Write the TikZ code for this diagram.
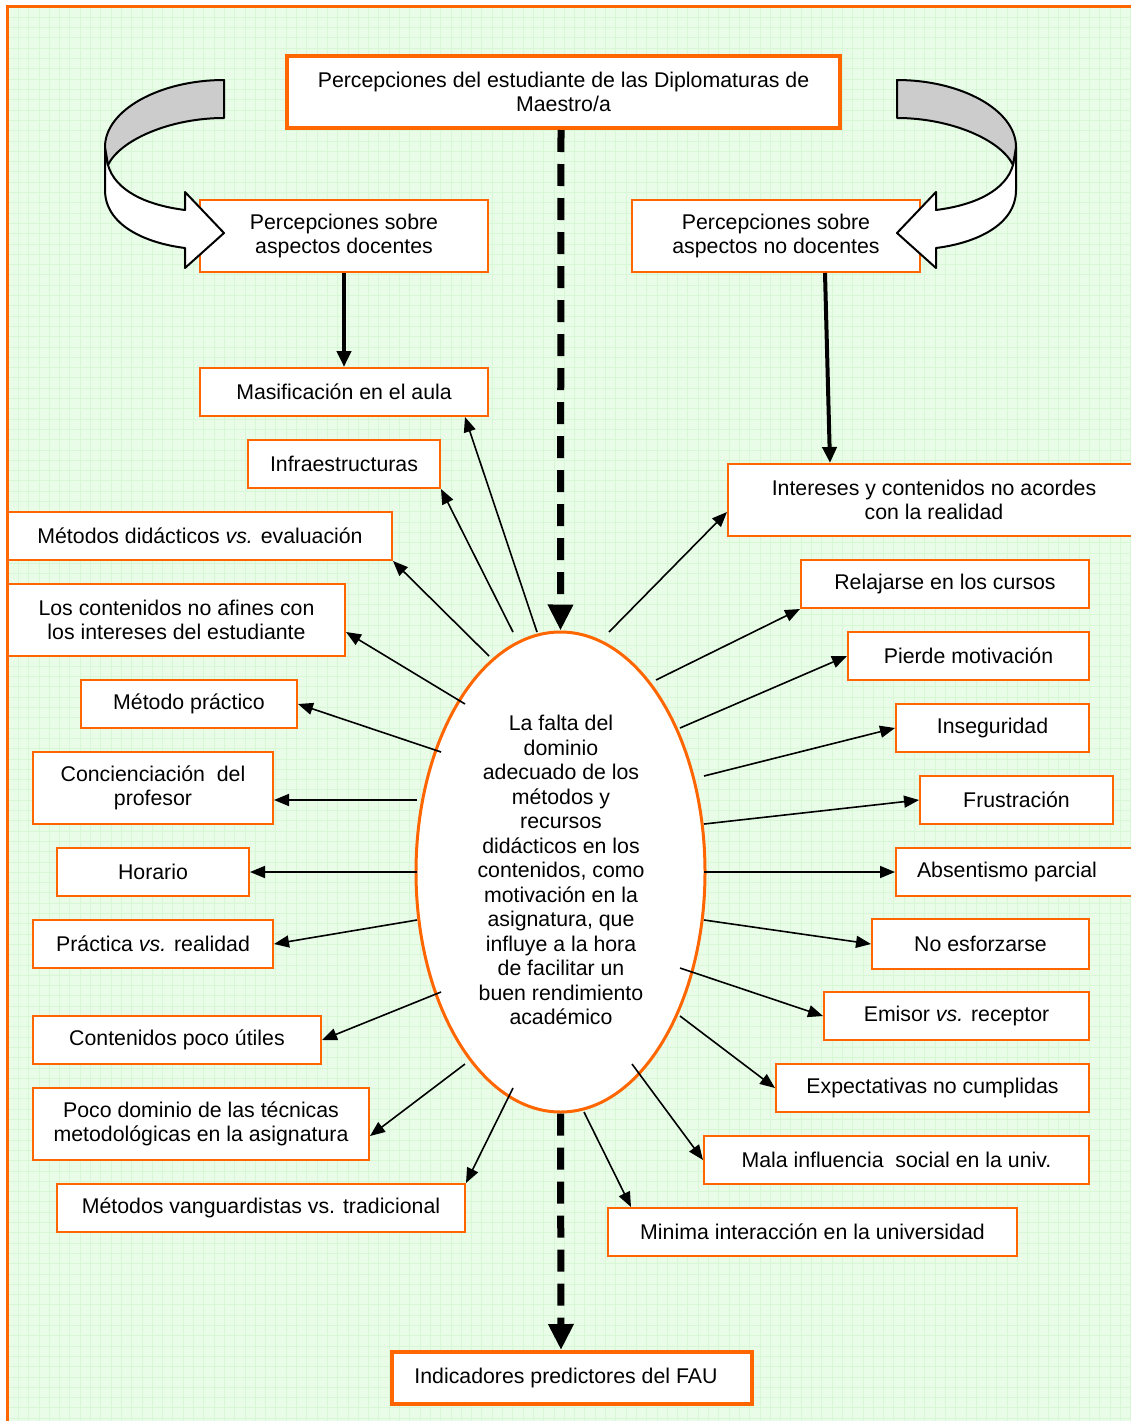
\documentclass[tikz,border=0pt]{standalone}
\usepackage{fontspec}
\setmainfont{Liberation Sans}
\usetikzlibrary{arrows.meta,shapes.geometric}
\definecolor{frameor}{RGB}{255,102,0}
\definecolor{paper}{RGB}{232,252,232}
\definecolor{gridg}{RGB}{215,247,215}
\definecolor{ribbon}{RGB}{204,204,204}
\newcommand\boxfont{\fontsize{21.3}{24.5}\selectfont}

\begin{document}
\begin{tikzpicture}[x=1pt,y=-1pt,
  box/.style={draw=frameor, line width=2pt, fill=white, inner sep=0pt, align=center, font=\boxfont},
  bigbox/.style={box, line width=4pt},
  thin/.style={line width=1.6pt, -{Triangle[length=15pt,width=12pt]}},
  thick/.style={line width=4pt, -{Triangle[length=16pt,width=14pt]}},
  dashcon/.style={line width=7pt, dash pattern=on 22pt off 12pt, -{Triangle[length=26pt,width=24pt]}},
  curved/.style={draw=black, line width=2pt, line join=round}]

\useasboundingbox (0,0) rectangle (1131,1421);
\clip (0,0) rectangle (1131,1421);

% paper with fine grid inside the orange frame
\fill[white] (0,0) rectangle (1131,1421);
\fill[paper] (7.5,6.5) rectangle (1145,1435);
\foreach \gx in {0,...,109}
  \draw[gridg, line width=0.8pt] ({8+10.3*\gx},7) -- ({8+10.3*\gx},1421);
\foreach \gy in {0,...,137}
  \draw[gridg, line width=0.8pt] (8,{7+10.3*\gy}) -- (1131,{7+10.3*\gy});
\draw[frameor, line width=3pt] (7.5,6.5) rectangle (1145,1435);

% boxes
\node[bigbox, minimum width=553, minimum height=72] (top) at (563.5,92)
  {Percepciones del estudiante de las Diplomaturas de\\Maestro/a};
\node[box, minimum width=288, minimum height=72] (doc) at (344,236)
  {Percepciones sobre\\aspectos docentes};
\node[box, minimum width=288, minimum height=72] (nodoc) at (776,236)
  {Percepciones sobre\\aspectos no docentes};

\node[box, minimum width=288, minimum height=48] (mas) at (344,392) {Masificación en el aula};
\node[box, minimum width=192, minimum height=48] (inf) at (344,464) {Infraestructuras};
\node[box, minimum width=384, minimum height=48] (metd) at (200,536) {Métodos didácticos \textit{vs.} evaluación};
\node[box, minimum width=337, minimum height=72] (cont) at (176.5,620) {Los contenidos no afines con\\los intereses del estudiante};
\node[box, minimum width=216, minimum height=48] (metp) at (189,704) {Método práctico};
\node[box, minimum width=240, minimum height=72] (conc) at (153,788) {Concienciación\ \ del\\profesor};
\node[box, minimum width=192, minimum height=48] (hor) at (153,872) {Horario};
\node[box, minimum width=240, minimum height=48] (prac) at (153,944) {Práctica \textit{vs.} realidad};
\node[box, minimum width=288, minimum height=48] (cpu) at (177,1040) {Contenidos poco útiles};
\node[box, minimum width=336, minimum height=72] (poco) at (201,1124) {Poco dominio de las técnicas\\metodológicas en la asignatura};
\node[box, minimum width=408, minimum height=48] (mvan) at (261,1208) {Métodos vanguardistas vs. tradicional};

\node[box, minimum width=412, minimum height=72] (int) at (934,500) {Intereses y contenidos no acordes\\con la realidad};
\node[box, minimum width=288, minimum height=48] (rel) at (945,584) {Relajarse en los cursos};
\node[box, minimum width=241, minimum height=48] (pier) at (968.5,656) {Pierde motivación};
\node[box, minimum width=193, minimum height=48] (ins) at (992.5,728) {Inseguridad};
\node[box, minimum width=193, minimum height=48] (fru) at (1016.5,800) {Frustración};
\node[box, minimum width=244, minimum height=48] (abs) at (1018,872) {Absentismo parcial\hspace*{22pt}};
\node[box, minimum width=217, minimum height=50] (nesf) at (980.5,944) {No esforzarse};
\node[box, minimum width=265, minimum height=48] (emi) at (956.5,1016) {Emisor \textit{vs.} receptor};
\node[box, minimum width=313, minimum height=48] (exp) at (932.5,1088) {Expectativas no cumplidas};
\node[box, minimum width=385, minimum height=48] (mala) at (896.5,1160) {Mala influencia\ \ social en la univ.};
\node[box, minimum width=409, minimum height=48] (mini) at (812.5,1232) {Minima interacción en la universidad};

\node[bigbox, minimum width=360, minimum height=52] (bot) at (572,1378) {Indicadores predictores del FAU\hspace*{12pt}};

% central ellipse
\node[ellipse, draw=frameor, line width=3pt, fill=white, minimum width=289, minimum height=480, inner sep=0pt] (ell) at (560.5,872) {};
\node[align=center, font=\boxfont, inner sep=0pt] (ellt) at (561,870)
  {La falta del\\dominio\\adecuado de los\\métodos y\\recursos\\didácticos en los\\contenidos, como\\motivación en la\\asignatura, que\\influye a la hora\\de facilitar un\\buen rendimiento\\académico};

% curved ribbon arrows
\filldraw[curved, fill=white] (105,147) -- (105,190) .. controls (105,225) and (145,243) .. (185,248)
  -- (185,268) -- (224,233) -- (185,192) -- (185,210)
  .. controls (145,205) and (115,190) .. (108,165) -- cycle;
\filldraw[curved, fill=ribbon] (224,80) .. controls (160,80) and (105,110) .. (105,147)
  -- (108,165) .. controls (120,140) and (170,118) .. (224,118) -- cycle;

\filldraw[curved, fill=white] (1016,147) -- (1016,190) .. controls (1016,225) and (976,243) .. (936,248)
  -- (936,268) -- (897,233) -- (936,192) -- (936,210)
  .. controls (976,205) and (1006,190) .. (1013,165) -- cycle;
\filldraw[curved, fill=ribbon] (897,80) .. controls (961,80) and (1016,110) .. (1016,147)
  -- (1013,165) .. controls (1001,140) and (951,118) .. (897,118) -- cycle;

% dashed main axis
\draw[dashcon] ([xshift=-2.5pt]top.south) -- (ell.north);
\draw[dashcon] (ell.south) -- ([xshift=-11pt]bot.north);

% thick arrows from the two perception groups
\draw[thick] (doc.south) -- (mas.north);
\draw[thick] ([xshift=49pt]nodoc.south) -- ([xshift=-104pt]int.north);

% starting points on the ellipse
\coordinate (s1) at (537,632);
\coordinate (s2) at (513,632);
\coordinate (s3) at (489,656);
\coordinate (s4) at (465,704);
\coordinate (s5) at (441,752);
\coordinate (s6) at (417,800);
\coordinate (s7) at (417,872);
\coordinate (s8) at (417,920);
\coordinate (s9) at (441,992);
\coordinate (s10) at (465,1064);
\coordinate (s11) at (513,1088);
\coordinate (r1) at (609,632);
\coordinate (r2) at (656,680);
\coordinate (r3) at (680,728);
\coordinate (r4) at (704,776);
\coordinate (r5) at (704,824);
\coordinate (r6) at (704,872);
\coordinate (r7) at (704,920);
\coordinate (r8) at (680,968);
\coordinate (r9) at (680,1016);
\coordinate (r10) at (632,1064);
\coordinate (r11) at (584,1112);

% left fan
\draw[thin] (s1) -- ([xshift=-24pt]mas.south east);
\draw[thin] (s2) -- (inf.south east);
\draw[thin] (s3) -- (metd.south east);
\draw[thin] (s4) -- ([yshift=-12pt]cont.east);
\draw[thin] (s5) -- (metp.east);
\draw[thin] (s6) -- ([yshift=-12pt]conc.east);
\draw[thin] (s7) -- (hor.east);
\draw[thin] (s8) -- (prac.east);
\draw[thin] (s9) -- (cpu.east);
\draw[thin] (s10) -- ([yshift=-12pt]poco.east);
\draw[thin] (s11) -- (mvan.north east);

% right fan
\draw[thin] (r1) -- ([yshift=-12pt]int.west);
\draw[thin] (r2) -- (rel.south west);
\draw[thin] (r3) -- (pier.west);
\draw[thin] (r4) -- (ins.west);
\draw[thin] (r5) -- (fru.west);
\draw[thin] (r6) -- (abs.west);
\draw[thin] (r7) -- (nesf.west);
\draw[thin] (r8) -- (emi.west);
\draw[thin] (r9) -- (exp.west);
\draw[thin] (r10) -- (mala.west);
\draw[thin] (r11) -- ([xshift=24pt]mini.north west);

\end{tikzpicture}
\end{document}
